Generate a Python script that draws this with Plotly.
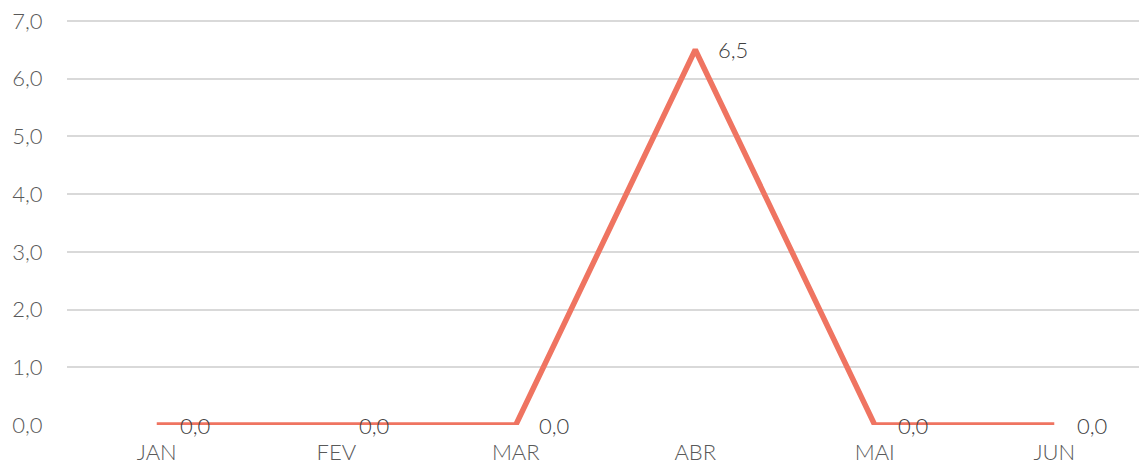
import plotly.graph_objects as go

months = ["JAN", "FEV", "MAR", "ABR", "MAI", "JUN"]
values = [0.0, 0.0, 0.0, 6.5, 0.0, 0.0]
y_ticks = [0, 1, 2, 3, 4, 5, 6, 7]
y_tick_labels = ["0,0", "1,0", "2,0", "3,0", "4,0", "5,0", "6,0", "7,0"]

def fmt(v):
    return f"{v:.1f}".replace(".", ",")

fig = go.Figure()
fig.add_trace(go.Scatter(
    x=months, y=values, mode="lines",
    line=dict(color="#EF7461", width=5.5),
    cliponaxis=False,
    hoverinfo="skip",
))

for m, v in zip(months, values):
    fig.add_annotation(
        x=m, y=v, text=fmt(v), showarrow=False,
        xanchor="left", yanchor="middle", xshift=21, yshift=0,
        font=dict(family="Lato", size=22, color="#404040", weight=300),
    )

fig.update_layout(
    width=1139, height=465,
    margin=dict(l=67, r=0, t=18, b=40),
    paper_bgcolor="white", plot_bgcolor="white",
    showlegend=False,
    font=dict(family="Lato", size=22, color="#595959", weight=300),
    xaxis=dict(
        type="category", range=[-0.5, 5.472], automargin=False,
        showgrid=False, zeroline=False, showline=False,
        ticks="outside", ticklen=8, tickcolor="rgba(0,0,0,0)",
        tickfont=dict(family="Lato", size=22, color="#595959", weight=300),
    ),
    yaxis=dict(
        range=[0, 7.05], tickvals=y_ticks, ticktext=y_tick_labels,
        automargin=False,
        showgrid=True, gridcolor="#D9D9D9", gridwidth=2,
        zeroline=False, showline=False,
        ticks="outside", ticklen=19, tickcolor="rgba(0,0,0,0)",
        ticklabeloverflow="allow",
        tickfont=dict(family="Lato", size=22, color="#595959", weight=300),
    ),
)

fig.write_html(
    "out.html",
    config={"displayModeBar": False},
    post_script="document.body.style.margin='0';document.body.style.overflow='hidden';",
)
